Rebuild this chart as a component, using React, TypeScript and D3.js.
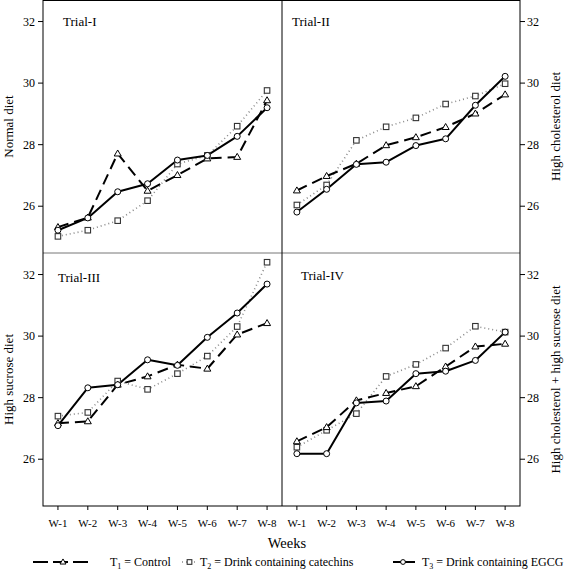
import React from "react";
import * as d3 from "d3";

const weeks = ["W-1", "W-2", "W-3", "W-4", "W-5", "W-6", "W-7", "W-8"];
const yTicks = [26, 28, 30, 32];
const trialNames = ["Trial-I", "Trial-II", "Trial-III", "Trial-IV"];
const dietLabels = [
  "Normal diet",
  "High cholesterol diet",
  "High sucrose diet",
  "High cholesterol + high sucrose diet",
];

// Trial-I
const t1Trial1 = [25.32, 25.63, 27.71, 26.5, 27.01, 27.55, 27.6, 29.44];
const t2Trial1 = [25.02, 25.22, 25.53, 26.18, 27.37, 27.65, 28.6, 29.76];
const t3Trial1 = [25.22, 25.62, 26.47, 26.73, 27.5, 27.65, 28.27, 29.2];
// Trial-II
const t1Trial2 = [26.51, 26.98, 27.38, 27.98, 28.24, 28.57, 29.01, 29.63];
const t2Trial2 = [26.04, 26.69, 28.14, 28.58, 28.87, 29.32, 29.58, 29.98];
const t3Trial2 = [25.81, 26.55, 27.36, 27.43, 27.97, 28.19, 29.28, 30.22];
// Trial-III
const t1Trial3 = [27.17, 27.23, 28.42, 28.69, 29.07, 28.94, 30.05, 30.42];
const t2Trial3 = [27.4, 27.52, 28.54, 28.27, 28.78, 29.35, 30.31, 32.4];
const t3Trial3 = [27.09, 28.32, 28.42, 29.23, 29.05, 29.96, 30.75, 31.69];
// Trial-IV
const t1Trial4 = [26.58, 27.04, 27.91, 28.15, 28.37, 29.01, 29.66, 29.75];
const t2Trial4 = [26.39, 26.94, 27.48, 28.69, 29.08, 29.61, 30.32, 30.13];
const t3Trial4 = [26.18, 26.18, 27.83, 27.89, 28.78, 28.86, 29.21, 30.13];

const FONT = "'Liberation Serif', 'DejaVu Serif', serif";

const W = 565;
const H = 570;
const X0 = 43;
const XM = 282;
const X1 = 520;
const Y0 = 0;
const YM = 253;
const Y1 = 506;

type Series = { key: string; values: number[] };

const panelData: Series[][] = [
  [
    { key: "T1", values: t1Trial1 },
    { key: "T2", values: t2Trial1 },
    { key: "T3", values: t3Trial1 },
  ],
  [
    { key: "T1", values: t1Trial2 },
    { key: "T2", values: t2Trial2 },
    { key: "T3", values: t3Trial2 },
  ],
  [
    { key: "T1", values: t1Trial3 },
    { key: "T2", values: t2Trial3 },
    { key: "T3", values: t3Trial3 },
  ],
  [
    { key: "T1", values: t1Trial4 },
    { key: "T2", values: t2Trial4 },
    { key: "T3", values: t3Trial4 },
  ],
];

const styles: Record<string, { stroke: string; width: number; dash?: string }> = {
  T1: { stroke: "#000", width: 2, dash: "11,6" },
  T2: { stroke: "#8a8a8a", width: 1.6, dash: "1,3" },
  T3: { stroke: "#000", width: 2 },
};

const tf = { fontFamily: FONT };

function Marker({ kind, x, y, s = 1 }: { kind: string; x: number; y: number; s?: number }) {
  if (kind === "T1") {
    const h = 6 * s;
    const w = 7 * s;
    const pts = `${x},${y - h * 0.6} ${x - w / 2},${y + h * 0.4} ${x + w / 2},${y + h * 0.4}`;
    return <polygon points={pts} fill="#fff" stroke="#000" strokeWidth={1} />;
  }
  if (kind === "T2") {
    const a = 5.5 * s;
    return (
      <rect x={x - a / 2} y={y - a / 2} width={a} height={a} fill="#fff" stroke="#333" strokeWidth={1.1} />
    );
  }
  return <circle cx={x} cy={y} r={3 * s} fill="#fff" stroke="#000" strokeWidth={1} />;
}

const panels = [
  { x0: X0, x1: XM, y0: Y0, y1: YM, side: "left", bottom: false, tx: 63, ty: 26 },
  { x0: XM, x1: X1, y0: Y0, y1: YM, side: "right", bottom: false, tx: 292, ty: 26 },
  { x0: X0, x1: XM, y0: YM, y1: Y1, side: "left", bottom: true, tx: 58, ty: 282 },
  { x0: XM, x1: X1, y0: YM, y1: Y1, side: "right", bottom: true, tx: 301, ty: 280 },
];

export default function App() {
  return (
    <svg
      width={W}
      height={H}
      style={{ position: "absolute", left: 0, top: 0, background: "#fff", fontFamily: FONT }}
    >
      <rect x={0} y={0} width={W} height={H} fill="#fff" />
      {panels.map((p, i) => {
        const x = d3.scalePoint<string>().domain(weeks).range([p.x0, p.x1]).padding(0.5);
        const y = d3.scaleLinear().domain([24.48, 32.7]).range([p.y1, p.y0]);
        const line = d3
          .line<number>()
          .x((_, j) => x(weeks[j]) as number)
          .y((v) => y(v));
        const order = ["T2", "T1", "T3"];
        const series = order.map((k) => panelData[i].find((s) => s.key === k)!);
        const midY = (p.y0 + p.y1) / 2;
        return (
          <g key={i}>
            {series.map((s) => (
              <path
                key={s.key}
                d={line(s.values) || ""}
                fill="none"
                stroke={styles[s.key].stroke}
                strokeWidth={styles[s.key].width}
                strokeDasharray={styles[s.key].dash}
                strokeLinejoin="round"
              />
            ))}
            {series.map((s) =>
              s.values.map((v, j) => (
                <Marker key={s.key + j} kind={s.key} x={x(weeks[j]) as number} y={y(v)} />
              ))
            )}
            <text x={p.tx} y={p.ty} fontSize={13} style={tf}>
              {trialNames[i]}
            </text>
            {yTicks.map((t) =>
              p.side === "left" ? (
                <g key={t}>
                  <line x1={p.x0 - 5} x2={p.x0} y1={y(t)} y2={y(t)} stroke="#000" strokeWidth={1} />
                  <text x={p.x0 - 8} y={y(t) + 4} fontSize={12} textAnchor="end" style={tf}>
                    {t}
                  </text>
                </g>
              ) : (
                <g key={t}>
                  <line x1={p.x1} x2={p.x1 + 5} y1={y(t)} y2={y(t)} stroke="#000" strokeWidth={1} />
                  <text x={p.x1 + 7} y={y(t) + 4} fontSize={12} textAnchor="start" style={tf}>
                    {t}
                  </text>
                </g>
              )
            )}
            {p.bottom &&
              weeks.map((w) => (
                <g key={w}>
                  <line
                    x1={x(w) as number}
                    x2={x(w) as number}
                    y1={p.y1}
                    y2={p.y1 + 4}
                    stroke="#000"
                    strokeWidth={1}
                  />
                  <text x={x(w) as number} y={p.y1 + 21} fontSize={11} textAnchor="middle" style={tf}>
                    {w}
                  </text>
                </g>
              ))}
            {p.side === "left" ? (
              <text
                transform={`translate(12.5,${midY}) rotate(-90)`}
                fontSize={13}
                textAnchor="middle"
                style={tf}
              >
                {dietLabels[i]}
              </text>
            ) : (
              <text
                transform={`translate(560,${midY}) rotate(-90)`}
                fontSize={13}
                textAnchor="middle"
                style={tf}
              >
                {dietLabels[i]}
              </text>
            )}
          </g>
        );
      })}
      {/* frame */}
      <line x1={X0} x2={X1} y1={YM} y2={YM} stroke="#777" strokeWidth={1} />
      <line x1={XM} x2={XM} y1={Y0} y2={Y1} stroke="#000" strokeWidth={1} />
      <rect x={X0} y={Y0 + 0.5} width={X1 - X0} height={Y1 - Y0 - 0.5} fill="none" stroke="#000" strokeWidth={1} />

      <text x={287} y={548} fontSize={14.5} textAnchor="middle" style={tf}>
        Weeks
      </text>

      {/* legend */}
      <line x1={33} x2={88} y1={562} y2={562} stroke="#000" strokeWidth={2} strokeDasharray="15,5" />
      <Marker kind="T1" x={63} y={562} s={0.85} />
      <text x={110} y={566} fontSize={12} style={tf}>
        T<tspan fontSize={8} dy={3}>1</tspan>
        <tspan dy={-3}> = Control</tspan>
      </text>
      <line x1={182} x2={198} y1={562} y2={562} stroke="#8a8a8a" strokeWidth={1.6} strokeDasharray="1,3" />
      <Marker kind="T2" x={189.5} y={562} s={0.85} />
      <text x={200} y={566} fontSize={12} style={tf}>
        T<tspan fontSize={8} dy={3}>2</tspan>
        <tspan dy={-3}> = Drink containing catechins</tspan>
      </text>
      <line x1={393} x2={415} y1={562} y2={562} stroke="#000" strokeWidth={2} />
      <Marker kind="T3" x={403} y={562} s={0.8} />
      <text x={422} y={566} fontSize={12} style={tf}>
        T<tspan fontSize={8} dy={3}>3</tspan>
        <tspan dy={-3}> = Drink containing EGCG</tspan>
      </text>
    </svg>
  );
}
